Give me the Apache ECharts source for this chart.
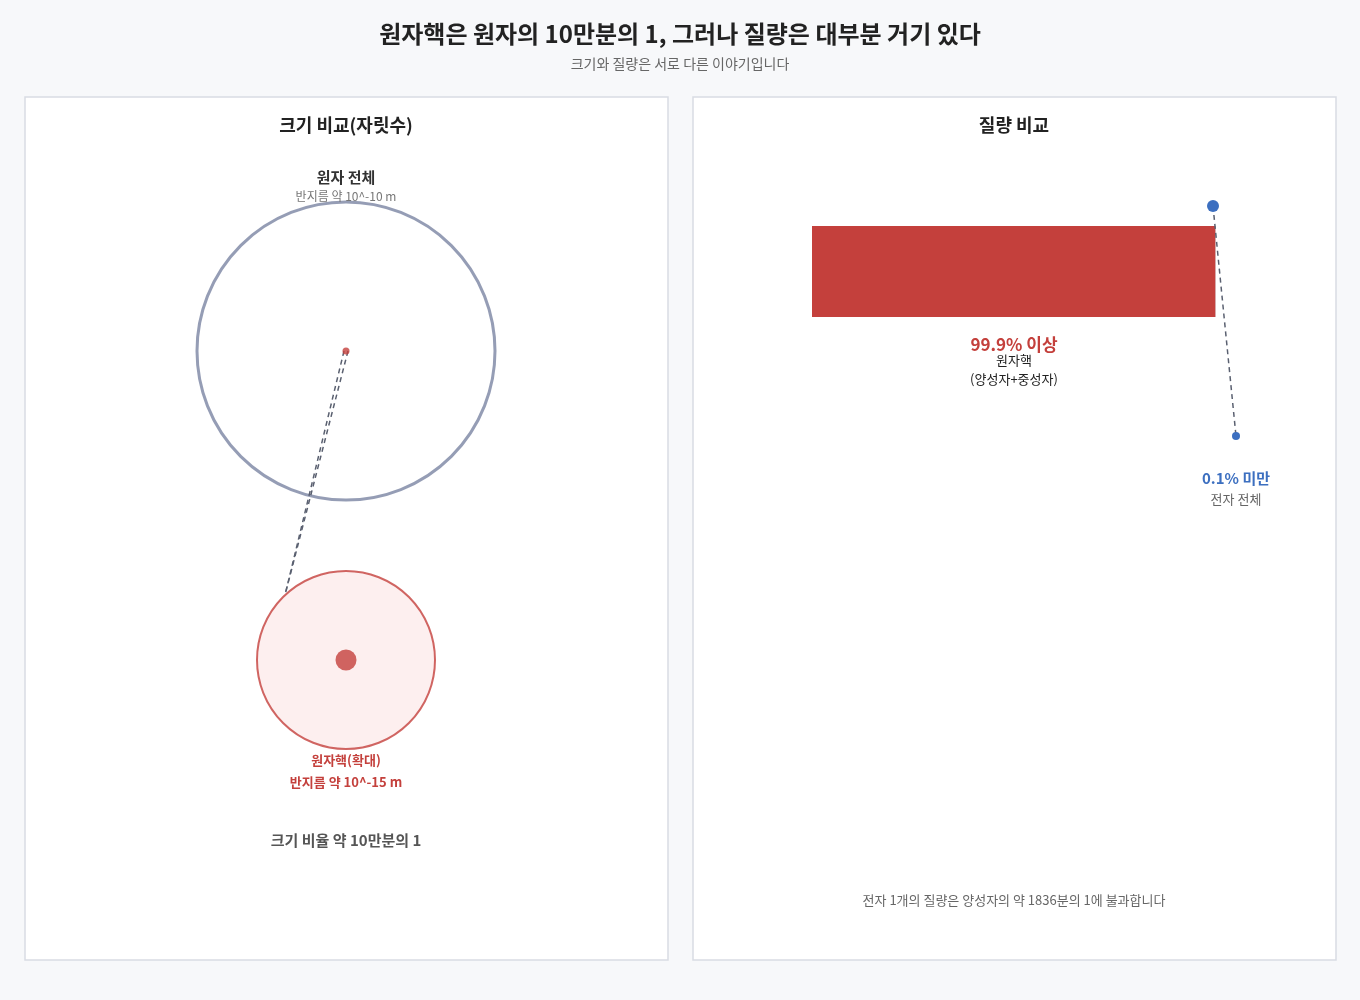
<!DOCTYPE html>
<html><head><meta charset="utf-8">
<script src="https://cdn.jsdelivr.net/npm/echarts@6/dist/echarts.min.js"></script>
<style>html,body{margin:0;background:#f7f8fa}#c{width:1360px;height:1000px}</style>
</head><body><div id="c"></div>
<script>
// 질량 비율 (%)
var massLabels = ['원자핵', '전자'];
var massValues = [99.9, 0.1];
// 크기 비교용 위치 (패널 좌표)
var atomCenter = [321, 254];
var nucleusZoom = [321, 563];
var linkPoints = [[[319, 254], [260, 498]], [[323, 254], [260, 498]]];
// 전자 표시 점 (패널 좌표)
var electronPoints = [[520, 109], [543, 339]];

var F = '"Noto Sans CJK KR", "Noto Sans", sans-serif';
var chart = echarts.init(document.getElementById('c'));

function txt(x, y, s, size, color, bold) {
    return { type: 'text', x: x, y: y, style: { text: s, font: (bold ? 'bold ' : '') + size + 'px ' + F, fill: color, textAlign: 'center', textVerticalAlign: 'middle' }, z: 10 };
}

var panelAxis = function (idx, max) {
    return { gridIndex: idx, type: 'value', min: 0, max: max, show: false };
};

chart.setOption({
    backgroundColor: '#f7f8fa',
    animation: false,
    graphic: [
        { type: 'rect', shape: { x: 25, y: 97, width: 643, height: 863 }, style: { fill: '#fff', stroke: '#d9dce3', lineWidth: 1.5 }, z: -10 },
        { type: 'rect', shape: { x: 693, y: 97, width: 643, height: 863 }, style: { fill: '#fff', stroke: '#d9dce3', lineWidth: 1.5 }, z: -10 },
        txt(680, 34, '원자핵은 원자의 10만분의 1, 그러나 질량은 대부분 거기 있다', 24, '#222', true),
        txt(680, 64, '크기와 질량은 서로 다른 이야기입니다', 14, '#666'),
        txt(346, 125, '크기 비교(자릿수)', 18, '#222', true),
        txt(1014, 125, '질량 비교', 18, '#222', true),
        txt(346, 177, '원자 전체', 15, '#333', true),
        txt(346, 196, '반지름 약 10^-10 m', 12, '#777'),
        txt(346, 760, '원자핵(확대)', 13, '#c4403c', true),
        txt(346, 782, '반지름 약 10^-15 m', 13, '#c4403c', true),
        txt(346, 840, '크기 비율 약 10만분의 1', 15, '#555', true),
        txt(1014, 345, '99.9% 이상', 17, '#c4403c', true),
        txt(1014, 360, '원자핵', 13, '#222'),
        txt(1014, 379, '(양성자+중성자)', 13, '#222'),
        txt(1236, 478, '0.1% 미만', 15, '#3c6fc0', true),
        txt(1236, 499, '전자 전체', 13, '#666'),
        txt(1014, 900, '전자 1개의 질량은 양성자의 약 1836분의 1에 불과합니다', 13, '#666')
    ],
    grid: [
        { left: 25, top: 97, width: 643, height: 863 },
        { left: 812, top: 226, width: 404, height: 91 },
        { left: 693, top: 97, width: 643, height: 863 }
    ],
    xAxis: [
        panelAxis(0, 643),
        { gridIndex: 1, type: 'value', min: 0, max: 100, show: false },
        panelAxis(2, 643)
    ],
    yAxis: [
        Object.assign(panelAxis(0, 863), { inverse: true }),
        { gridIndex: 1, type: 'category', data: ['질량'], show: false },
        Object.assign(panelAxis(2, 863), { inverse: true })
    ],
    series: [
        { type: 'scatter', xAxisIndex: 0, yAxisIndex: 0, data: [atomCenter], symbolSize: 298, silent: true,
          itemStyle: { color: 'rgba(0,0,0,0)', borderColor: '#7a84a3', borderWidth: 3 }, z: 2 },
        { type: 'scatter', xAxisIndex: 0, yAxisIndex: 0, data: [nucleusZoom], symbolSize: 178, silent: true,
          itemStyle: { color: '#fcebeb', borderColor: '#c4403c', borderWidth: 2 }, z: 2 },
        { type: 'scatter', xAxisIndex: 0, yAxisIndex: 0, data: [nucleusZoom], symbolSize: 21, silent: true,
          itemStyle: { color: '#c4403c' }, z: 4 },
        { type: 'scatter', xAxisIndex: 0, yAxisIndex: 0, data: [atomCenter], symbolSize: 7, silent: true,
          itemStyle: { color: '#c4403c' }, z: 5 }
    ].concat(linkPoints.map(function (p) {
        return { type: 'line', xAxisIndex: 0, yAxisIndex: 0, data: p, symbol: 'none', silent: true, z: 3,
                 lineStyle: { color: '#5a6070', width: 1.5, type: [5, 4] } };
    })).concat(massValues.map(function (v, i) {
        return { type: 'bar', name: massLabels[i], xAxisIndex: 1, yAxisIndex: 1, stack: 'm', data: [v], barWidth: '100%',
                 itemStyle: { color: i === 0 ? '#c4403c' : '#d0d5dd' }, silent: true };
    })).concat([
        { type: 'line', xAxisIndex: 2, yAxisIndex: 2, data: electronPoints, symbol: 'circle', silent: true, z: 6,
          symbolSize: function (v, p) { return p.dataIndex === 0 ? 12 : 8; },
          itemStyle: { color: '#3c6fc0' },
          lineStyle: { color: '#5a6070', width: 1.5, type: [5, 4] } }
    ])
});
</script></body></html>
